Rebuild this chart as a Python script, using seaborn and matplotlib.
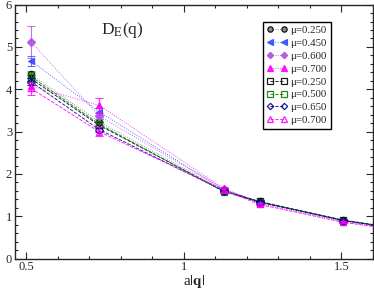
import numpy as np
import pandas as pd
import matplotlib
matplotlib.use('Agg')
import matplotlib.pyplot as plt
import seaborn as sns

# momenta (last point lies past the right edge, line runs off the frame)
aq = [0.516, 0.732, 1.127, 1.241, 1.506, 1.75]

labels = ['μ=0.250', 'μ=0.450', 'μ=0.600', 'μ=0.700',
          'μ=0.250', 'μ=0.500', 'μ=0.650', 'μ=0.700']

d_mu250a = [4.35, 3.23, 1.62, 1.35, 0.91, 0.64]
d_mu450 = [4.67, 3.47, 1.63, 1.34, 0.90, 0.63]
d_mu600 = [5.12, 3.37, 1.64, 1.33, 0.90, 0.63]
d_mu700a = [4.08, 3.62, 1.66, 1.30, 0.87, 0.61]
d_mu250b = [4.25, 3.15, 1.60, 1.35, 0.91, 0.64]
d_mu500 = [4.30, 3.18, 1.58, 1.34, 0.90, 0.63]
d_mu650 = [4.18, 3.05, 1.60, 1.33, 0.90, 0.63]
d_mu700b = [4.02, 3.00, 1.62, 1.28, 0.86, 0.60]

e_mu250a = [0.08, 0.07, 0.03, 0.03, 0.02, 0.02]
e_mu450 = [0.12, 0.08, 0.03, 0.03, 0.02, 0.02]
e_mu600 = [0.38, 0.08, 0.03, 0.03, 0.02, 0.02]
e_mu700a = [0.12, 0.18, 0.04, 0.03, 0.02, 0.02]
e_mu250b = [0.08, 0.07, 0.03, 0.03, 0.02, 0.02]
e_mu500 = [0.10, 0.07, 0.03, 0.03, 0.02, 0.02]
e_mu650 = [0.08, 0.07, 0.03, 0.03, 0.02, 0.02]
e_mu700b = [0.15, 0.10, 0.04, 0.03, 0.02, 0.02]

series = [d_mu250a, d_mu450, d_mu600, d_mu700a, d_mu250b, d_mu500, d_mu650, d_mu700b]
errors = [e_mu250a, e_mu450, e_mu600, e_mu700a, e_mu250b, e_mu500, e_mu650, e_mu700b]

# style per series: colour, marker, filled, linestyle
styles = [
    ('#808080', 'o', True, ':'),
    ('#3050ff', '<', True, ':'),
    ('#b050e0', 'D', True, ':'),
    ('#ff00ff', '^', True, ':'),
    ('black', 's', False, '--'),
    ('#008000', 's', False, '--'),
    ('#000090', 'D', False, '--'),
    ('#ff00ff', '^', False, '--'),
]

sns.set_style('ticks')
plt.rcParams['font.family'] = ['Liberation Serif', 'DejaVu Serif']
plt.rcParams['mathtext.fontset'] = 'stix'

fig = plt.figure(figsize=(3.74, 2.89), dpi=100)
ax = fig.add_axes([0.040, 0.105, 0.957, 0.879])

for lab, vals, errs, (col, mk, filled, ls) in zip(labels, series, errors, styles):
    df = pd.DataFrame({'aq': aq, 'D': vals})
    ax.errorbar(aq, vals, yerr=errs, fmt='none', ecolor=col, elinewidth=0.8,
                capsize=3, capthick=0.8, alpha=0.8)
    ms = 4.5 if mk != 'D' else 3.8
    sns.lineplot(data=df, x='aq', y='D', ax=ax, color=col, linestyle=ls,
                 linewidth=0.65, alpha=0.9, marker=mk, markersize=ms,
                 markerfacecolor=(col if filled else 'none'),
                 markeredgecolor=('black' if mk == 'o' else col),
                 markeredgewidth=0.9, label=lab)

ax.set_xlim(0.465, 1.6)
ax.set_ylim(0, 6)
ax.set_xticks([0.5, 1.0, 1.5])
ax.set_xticklabels(['0.5', '1', '1.5'])
ax.set_xticks(np.arange(0.5, 1.61, 0.1), minor=True)
ax.set_yticks(range(0, 7))
ax.set_yticks(np.arange(0, 6.01, 0.2), minor=True)
ax.tick_params(which='both', direction='in', top=True, right=True, labelsize=9, pad=2)
ax.tick_params(which='major', length=5, width=0.8)
ax.tick_params(which='minor', length=2.5, width=0.8)
for sp in ax.spines.values():
    sp.set_linewidth(1.0)

ax.set_xlabel(r'a$|\mathbf{q}|$', fontsize=11, labelpad=0)
ax.set_ylabel('')
ax.text(0.24, 0.9, r'D$_{\rm E}$(q)', transform=ax.transAxes, fontsize=12.5,
        ha='left', va='center')

ax.legend(loc='upper right', bbox_to_anchor=(0.882, 0.932), fontsize=7.8,
          numpoints=2, markerscale=0.85, frameon=True, fancybox=False,
          edgecolor='black', framealpha=1, handlelength=1.9, handletextpad=0.3,
          labelspacing=0.3, borderpad=0.35, borderaxespad=0)

fig.savefig('out.png', dpi=100)
